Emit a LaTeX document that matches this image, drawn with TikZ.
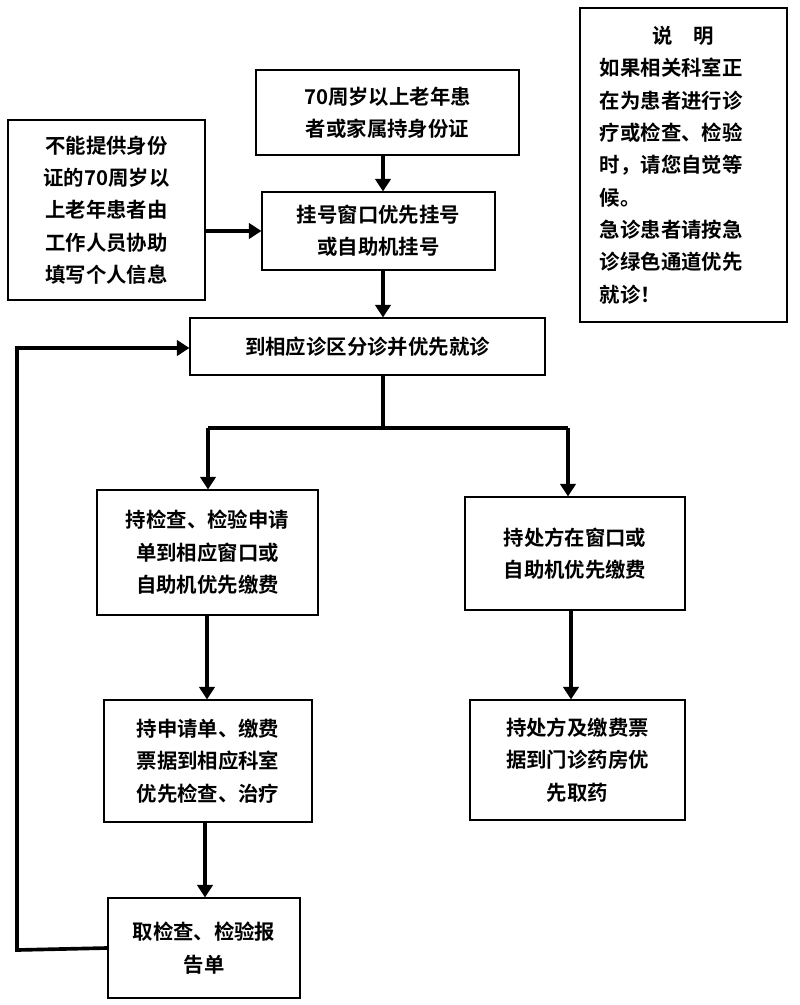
\documentclass[tikz,border=0pt]{standalone}
\usepackage{fontspec}
\newfontfamily\cjk{Noto Sans CJK SC}[BoldFont={Noto Sans CJK SC Bold}]
\usetikzlibrary{arrows.meta,positioning}
\tikzset{
  box/.style={draw,line width=0.8pt,inner sep=0pt,font=\cjk\bfseries\fontsize{14.5}{23}\selectfont,align=center},
  flow/.style={line width=2.6pt,-{Triangle[length=9pt,width=11pt]}},
  seg/.style={line width=2.6pt}
}
\begin{document}
\begin{tikzpicture}[x=0.025cm,y=-0.025cm]
\useasboundingbox (0,0) rectangle (800,1005);
% boxes
\node[box,minimum width=263*0.025cm,minimum height=85*0.025cm] (age) at (387.5,112.5) {70周岁以上老年患\\者或家属持身份证};
\node[box,minimum width=197*0.025cm,minimum height=180*0.025cm] (help) at (106.5,210) {不能提供身份\\证的70周岁以\\上老年患者由\\工作人员协助\\填写个人信息};
\node[box,minimum width=233*0.025cm,minimum height=78*0.025cm] (reg) at (378.5,231) {挂号窗口优先挂号\\或自助机挂号};
\node[box,minimum width=355*0.025cm,minimum height=57*0.025cm] (diag) at (367.5,346.5) {到相应诊区分诊并优先就诊};
\node[box,minimum width=221*0.025cm,minimum height=125*0.025cm] (exam) at (207.5,552.5) {持检查、检验申请\\单到相应窗口或\\自助机优先缴费};
\node[box,minimum width=220*0.025cm,minimum height=113*0.025cm] (pres) at (575,553.5) {持处方在窗口或\\自助机优先缴费};
\node[box,minimum width=208*0.025cm,minimum height=122*0.025cm] (treat) at (208,761) {持申请单、缴费\\票据到相应科室\\优先检查、治疗};
\node[box,minimum width=215*0.025cm,minimum height=120*0.025cm] (drug) at (577.5,760) {持处方及缴费票\\据到门诊药房优\\先取药};
\node[box,minimum width=192*0.025cm,minimum height=100*0.025cm] (report) at (204,948) {取检查、检验报\\告单};
\node[box,minimum width=207*0.025cm,minimum height=314*0.025cm,align=left] (note) at (683.5,165) {\makebox[8.2em]{说\quad 明}\\如果相关科室正\\在为患者进行诊\\疗或检查、检验\\时，请您自觉等\\候。\\急诊患者请按急\\诊绿色通道优先\\就诊！};
% connectors
\coordinate (midx) at (383,0);
\draw[flow] (age.south -| midx) -- (reg.north -| midx);
\draw[flow] (help.east |- reg) -- (reg);
\draw[flow] (reg.south -| midx) -- (diag.north -| midx);
\coordinate (split) at (383,428);
\draw[seg] (diag.south -| split) -- (split);
\draw[seg] (208,428) -- (568,428);
\draw[flow] (208,428) -- (exam.north -| 208,0);
\draw[flow] (568,428) -- (pres.north -| 568,0);
\draw[flow] (exam.south -| 207,0) -- (treat.north -| 207,0);
\draw[flow] (pres.south -| 571,0) -- (drug.north -| 571,0);
\draw[flow] (treat.south -| 205,0) -- (report.north -| 205,0);
\draw[flow] (report.west) -- (17,950) -- (17,348) -- (diag.west |- 0,348);
\end{tikzpicture}
\end{document}
